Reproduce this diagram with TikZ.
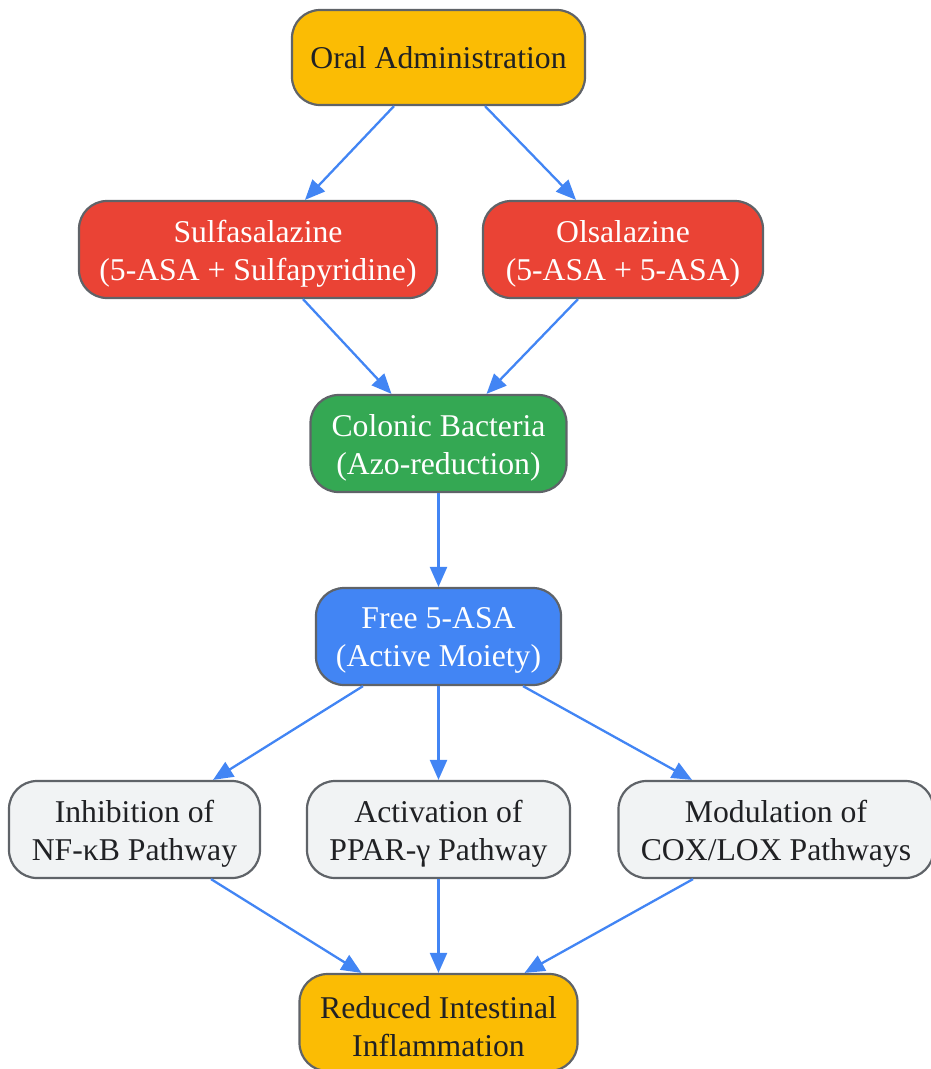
\documentclass[tikz,border=0pt]{standalone}
\usepackage{fontspec}
\setmainfont{Liberation Serif}
\usetikzlibrary{arrows.meta,calc}
\definecolor{gyellow}{HTML}{FBBC04}
\definecolor{gred}{HTML}{EA4335}
\definecolor{ggreen}{HTML}{34A853}
\definecolor{gblue}{HTML}{4285F4}
\definecolor{ggrey}{HTML}{F1F3F4}
\definecolor{gborder}{HTML}{5F6368}
\definecolor{gtext}{HTML}{202124}
\tikzset{
  box/.style={draw=gborder, line width=2.2pt, rounded corners=28pt,
    inner sep=0pt, minimum height=97pt},
  lbl/.style={align=center, inner sep=0pt, yshift=-4pt, font=\fontsize{31.7}{38}\selectfont},
  darktxt/.style={text=gtext},
  lighttxt/.style={text=white},
  conn/.style={draw=gblue, line width=2.3pt, -{Triangle[length=20pt,width=17pt]}}
}
\begin{document}
\begin{tikzpicture}[x=1pt,y=-1pt]
\useasboundingbox (0,0) rectangle (931,1069);
\node[box, fill=gyellow, minimum width=293pt, minimum height=95pt,
  label={[lbl,darktxt,yshift=4pt]center:Oral Administration}] (oral) at (438.5,57.5) {};
\node[box, fill=gred, minimum width=358pt,
  label={[lbl,lighttxt]center:{Sulfasalazine\\(5-ASA + Sulfapyridine)}}] (sulfa) at (258,249.5) {};
\node[box, fill=gred, minimum width=280pt,
  label={[lbl,lighttxt]center:{Olsalazine\\(5-ASA + 5-ASA)}}] (olsa) at (623,249.5) {};
\node[box, fill=ggreen, minimum width=256pt,
  label={[lbl,lighttxt]center:{Colonic Bacteria\\(Azo-reduction)}}] (colon) at (438.5,443.5) {};
\node[box, fill=gblue, minimum width=245pt,
  label={[lbl,lighttxt]center:{Free 5-ASA\\(Active Moiety)}}] (free) at (438.5,636.5) {};
\node[box, fill=ggrey, minimum width=251pt,
  label={[lbl,darktxt]center:{Inhibition of\\NF-κB Pathway}}] (inhib) at (134.5,829.5) {};
\node[box, fill=ggrey, minimum width=263pt,
  label={[lbl,darktxt]center:{Activation of\\PPAR-γ Pathway}}] (activ) at (438.5,829.5) {};
\node[box, fill=ggrey, minimum width=315pt,
  label={[lbl,darktxt]center:{Modulation of\\COX/LOX Pathways}}] (modul) at (776,829.5) {};
\node[box, fill=gyellow, minimum width=278pt,
  label={[lbl,darktxt]center:{Reduced Intestinal\\Inflammation}}] (reduc) at (438.5,1022.5) {};

\draw[conn] ([xshift=-44.5pt]oral.south) -- ([xshift=47pt]sulfa.north);
\draw[conn] ([xshift=46.5pt]oral.south) -- ([xshift=-47pt]olsa.north);
\draw[conn] ([xshift=45pt]sulfa.south) -- ([xshift=-47pt]colon.north);
\draw[conn] ([xshift=-45pt]olsa.south) -- ([xshift=48pt]colon.north);
\draw[conn] (colon.south) -- (free.north);
\draw[conn] ([xshift=-75.5pt]free.south) -- ([xshift=78.5pt]inhib.north);
\draw[conn] (free.south) -- (activ.north);
\draw[conn] ([xshift=84.5pt]free.south) -- ([xshift=-84pt]modul.north);
\draw[conn] ([xshift=76.5pt]inhib.south) -- ([xshift=-77pt]reduc.north);
\draw[conn] (activ.south) -- (reduc.north);
\draw[conn] ([xshift=-83pt]modul.south) -- ([xshift=86pt]reduc.north);
\end{tikzpicture}
\end{document}
